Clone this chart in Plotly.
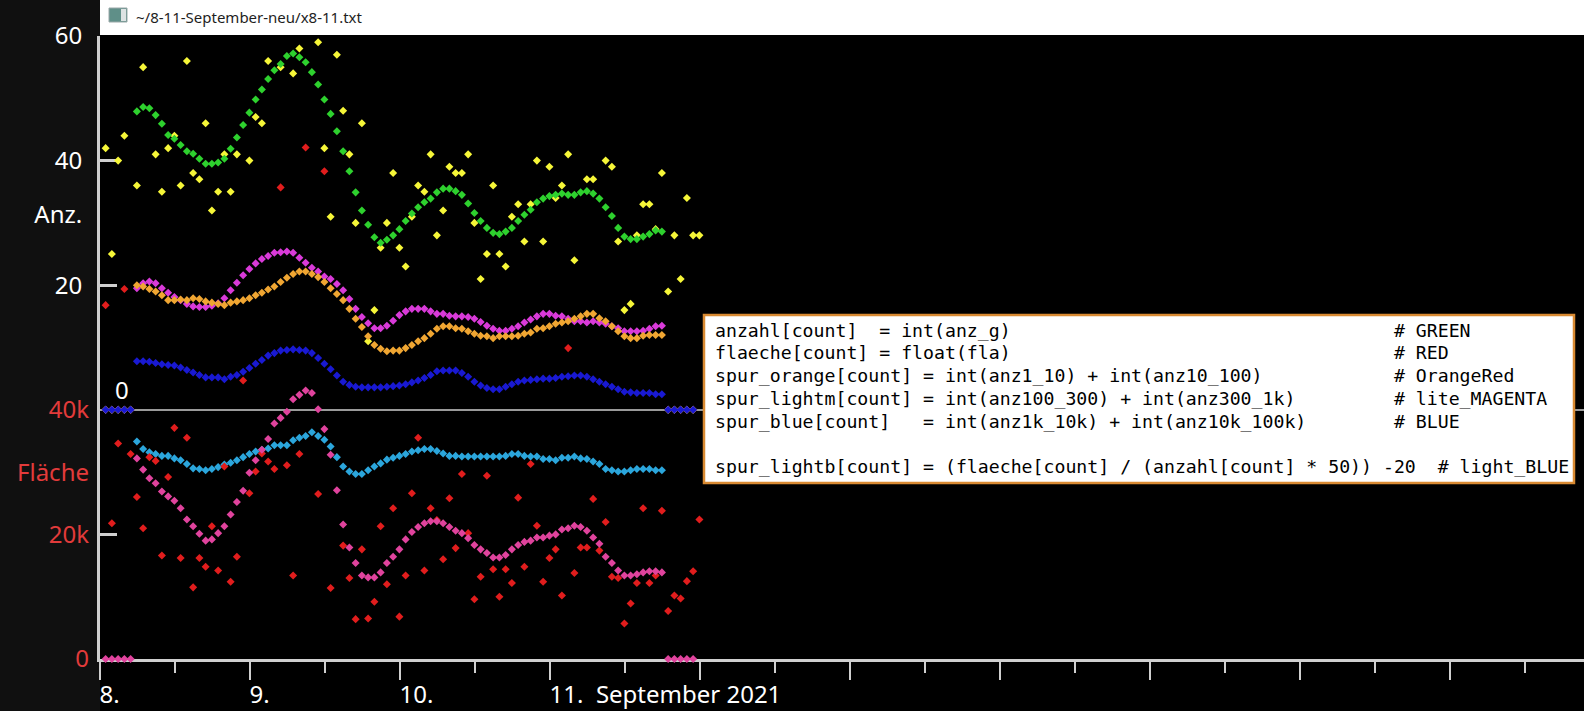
import pandas as pd
import plotly.graph_objects as go

# hourly samples from 8. to 11. September 2021
times = pd.date_range("2021-09-08 00:54", periods=96, freq="h")

# raw values per hour
anzahl_roh = [42, 25, 40, 44, None, 36, 55, None, 41, 35, 42, 44, 36, 56, 38, 37,
              46, 32, 35, 41, 35, 41, None, 40, 47, 46, 56, None, 55, None, 54, 58,
              None, None, 59, 42, 31, 57, 48, 41, 30, 46, 11, 16, 26, 30, 38, 26,
              23, 31, 36, 35, 41, 28, 32, 39, 38, 38, 41, 30, 21, 25, 36, 25,
              23, 31, 33, 27, 33, 40, 27, 39, 34, 36, 41, 24, None, 37, 37, None,
              40, 39, 27, 16, 17, 28, 33, 33, 29, 38, 19, 28, 21, 34, 28, 28]

flaeche_roh_k = [56.8, 21.8, 34.6, 59.4, 32.9, 26.0, 21.0, 32.4, 31.8, 16.6, 29.2, 37.1,
                 16.2, 35.5, 11.5, 16.2, 14.8, 21.3, 14.2, 30.9, 12.4, 16.4, 44.7, 26.6,
                 30.1, 33.0, 31.7, 30.5, 75.7, 31.1, 13.4, 32.9, 82.1, None, 26.5, 78.3,
                 11.4, None, 18.2, 13.0, 6.4, 17.6, 6.5, 9.2, 21.3, 12.0, 24.2, 6.8,
                 13.4, 26.6, 35.5, 14.2, 24.2, 22.3, 16.0, 25.8, 17.8, 29.7, 20.2, 9.6,
                 13.2, 29.4, 14.4, 10.0, 14.4, 12.2, 25.9, 14.8, 31.3, 21.4, 12.4, 16.2,
                 17.6, 10.2, 49.9, 13.8, 17.9, 17.9, 25.7, 17.4, 22.0, 13.2, 13.0, 5.7,
                 8.9, 12.2, 24.2, 12.2, 13.4, 23.8, 7.7, 10.2, 9.7, 12.5, 14.1, 22.4]

# smoothed tracks (zero where the window is not full yet)
anzahl = [0, 0, 0, 0, 0,
          47.9, 48.6, 48.4, 47.3, 45.9, 44.1, 43.5, 42.5, 41.5, 41.1,
          40.3, 39.5, 39.5, 39.7, 40.3, 41.9, 43.7, 45.7, 47.7, 49.8,
          51.4, 53.1, 54.5, 55.5, 56.8, 57.2, 56.6, 55.8, 54.2, 52.2,
          49.8, 47.5, 44.7, 41.5, 38.3, 34.9, 32.0, 29.7, 27.7, 26.8,
          27.3, 28.0, 29.0, 30.3, 31.5, 32.5, 33.3, 33.9, 34.9, 35.5,
          35.5, 35.1, 34.5, 33.1, 31.6, 30.3, 29.2, 28.4, 28.2, 28.6,
          29.2, 30.3, 31.3, 32.1, 33.3, 33.9, 34.3, 34.5, 34.7, 34.5,
          34.5, 34.9, 35.1, 34.7, 33.9, 32.5, 31.1, 29.2, 27.8, 27.4,
          27.4, 27.8, 28.2, 28.8, 28.6,
          0, 0, 0, 0, 0, None]

spur_orange = [0, 0, 0, 0, 0,
               20.0, 19.8, 19.4, 19.0, 18.4, 17.6, 17.6, 17.7, 17.6, 17.9,
               17.8, 17.4, 17.2, 17.0, 16.8, 17.2, 17.4, 17.6, 17.9, 18.4,
               18.8, 19.3, 19.8, 20.5, 21.2, 21.8, 22.2, 22.2, 21.8, 21.3,
               20.5, 19.5, 18.6, 17.6, 16.2, 14.6, 13.3, 11.8, 10.4, 9.8,
               9.4, 9.5, 9.5, 9.9, 10.4, 11.0, 11.5, 12.2, 13.0, 13.4,
               13.4, 13.1, 13.0, 12.6, 12.2, 11.9, 11.8, 11.5, 11.8, 11.8,
               11.8, 11.9, 12.2, 12.4, 13.0, 13.1, 13.4, 13.8, 14.0, 14.2,
               14.6, 15.0, 15.4, 15.4, 14.7, 14.2, 13.4, 12.6, 11.8, 11.5,
               11.5, 11.9, 12.0, 12.0, 12.0,
               0, 0, 0, 0, 0, None]

spur_lightm = [0, 0, 0, 0, 0,
               19.5, 20.3, 20.6, 20.3, 19.5, 18.8, 18.1, 17.6, 17.0, 16.6,
               16.5, 16.5, 16.7, 17.1, 17.9, 19.2, 20.4, 21.6, 22.6, 23.5,
               24.2, 24.7, 25.2, 25.3, 25.4, 25.2, 24.4, 23.6, 22.8, 22.2,
               21.4, 21.0, 20.2, 19.2, 17.8, 16.2, 14.9, 13.9, 13.1, 13.1,
               13.5, 14.3, 15.2, 15.8, 16.2, 16.2, 16.2, 15.8, 15.4, 15.4,
               15.1, 15.0, 15.0, 14.9, 14.6, 14.1, 13.5, 13.0, 12.7, 12.7,
               13.0, 13.4, 14.0, 14.5, 15.0, 15.4, 15.4, 15.1, 15.0, 14.6,
               14.2, 14.2, 14.0, 14.2, 14.0, 13.8, 13.4, 13.1, 12.6, 12.6,
               12.6, 12.7, 13.0, 13.4, 13.5,
               0, 0, 0, 0, 0, None]

spur_blue = [0, 0, 0, 0, 0,
             7.8, 7.8, 7.7, 7.5, 7.3, 7.2, 7.1, 6.8, 6.4, 6.0,
             5.6, 5.2, 5.2, 5.2, 4.9, 5.3, 5.6, 6.1, 6.7, 7.4,
             8.0, 8.7, 9.1, 9.5, 9.6, 9.7, 9.6, 9.5, 9.1, 8.3,
             7.4, 6.5, 5.5, 4.5, 4.0, 3.7, 3.6, 3.6, 3.6, 3.6,
             3.7, 3.8, 3.9, 4.1, 4.4, 4.7, 5.1, 5.6, 6.2, 6.3,
             6.3, 6.3, 5.9, 5.3, 4.5, 3.9, 3.5, 3.3, 3.3, 3.7,
             4.1, 4.5, 4.7, 4.8, 4.9, 5.0, 5.0, 5.1, 5.3, 5.4,
             5.5, 5.5, 5.3, 4.9, 4.5, 4.1, 3.7, 3.3, 2.9, 2.8,
             2.7, 2.7, 2.7, 2.5, 2.5,
             0, 0, 0, 0, 0, None]

spur_lightb = [None, None, None, None, None,
               -5.1, -6.3, -6.8, -7.1, -7.4, -7.4, -7.8, -8.1, -8.7, -9.4,
               -9.5, -9.7, -9.5, -9.2, -8.8, -8.5, -8.1, -7.6, -7.1, -6.7,
               -6.4, -6.2, -5.7, -5.7, -5.7, -4.9, -4.5, -4.2, -3.6, -4.2,
               -4.8, -5.9, -7.6, -9.1, -9.9, -10.3, -10.3, -9.7, -9.1, -8.6,
               -8.0, -7.7, -7.4, -7.1, -6.7, -6.5, -6.3, -6.3, -6.6, -7.0,
               -7.4, -7.4, -7.5, -7.5, -7.5, -7.5, -7.5, -7.5, -7.5, -7.4,
               -7.1, -7.1, -7.4, -7.5, -7.5, -7.9, -7.9, -8.1, -7.7, -7.7,
               -7.5, -7.8, -7.9, -8.3, -8.7, -9.5, -9.7, -9.9, -9.9, -9.7,
               -9.5, -9.5, -9.5, -9.7, -9.7,
               None, None, None, None, None, None]

flaeche_k = [0, 0, 0, 0, 0,
             32.2, 30.4, 29.0, 28.2, 26.9, 26.1, 25.4, 24.2, 22.4, 21.3,
             20.1, 19.0, 19.2, 20.2, 21.3, 23.2, 25.2, 27.0, 29.9, 31.9,
             33.6, 35.3, 37.8, 38.7, 39.7, 41.7, 42.4, 43.1, 42.7, 40.1,
             36.9, 32.8, 27.1, 21.6, 17.9, 15.4, 13.4, 13.1, 13.1, 13.9,
             15.4, 16.4, 17.6, 19.2, 20.4, 21.2, 21.8, 22.1, 22.1, 21.8,
             21.2, 20.6, 20.2, 19.4, 18.3, 17.6, 17.0, 16.3, 16.3, 16.7,
             17.6, 18.3, 18.8, 19.0, 19.5, 19.5, 19.8, 20.0, 20.8, 21.0,
             21.4, 21.2, 20.6, 19.5, 18.5, 16.4, 15.4, 14.2, 13.4, 13.4,
             13.6, 13.9, 14.1, 14.1, 13.9,
             0, 0, 0, 0, 0, None]

# axis labels
day_ticks = pd.date_range("2021-09-08", "2021-09-17", freq="D")
day_labels = ["8.", "9.", "10.", "11.\u00a0\u00a0September 2021", "", "", "", "", "", ""]
half_ticks = pd.date_range("2021-09-08 12:00", "2021-09-17 12:00", freq="D")
anz_ticks = [20, 31.3, 40, 60]
anz_labels = ["20", "Anz.", "40", "60"]
fla_ticks = [0, 20, 30, 40]
fla_labels = ["0", "20k", "Fläche", "40k"]

legend_lines = [
    ("anzahl[count]  = int(anz_g)", "# GREEN"),
    ("flaeche[count] = float(fla)", "# RED"),
    ("spur_orange[count] = int(anz1_10) + int(anz10_100)", "# OrangeRed"),
    ("spur_lightm[count] = int(anz100_300) + int(anz300_1k)", "# lite_MAGENTA"),
    ("spur_blue[count]   = int(anz1k_10k) + int(anz10k_100k)", "# BLUE"),
    ("", ""),
    ("spur_lightb[count] = (flaeche[count] / (anzahl[count] * 50)) -20", "# light_BLUE"),
]

W, H = 1584, 711
L, R, T, B = 100, 0, 36, 52
PW, PH = W - L - R, H - T - B


def px(x):
    return (x - L) / PW


def py(y):
    return (H - B - y) / PH


def dots(y, color, axis="y", clip=True):
    return go.Scatter(x=times, y=y, mode="markers", yaxis=axis, cliponaxis=clip,
                      marker=dict(symbol="diamond", size=6.2, color=color, line=dict(width=0)),
                      hoverinfo="skip")


fig = go.Figure()
fig.add_trace(dots(anzahl_roh, "#f6f638"))
fig.add_trace(dots(anzahl, "#2ed12e"))
fig.add_trace(dots(spur_lightm, "#d93ad9"))
fig.add_trace(dots(spur_orange, "#f0a632"))
fig.add_trace(dots(spur_blue, "#1919d2"))
fig.add_trace(dots(spur_lightb, "#2ba6dc"))
fig.add_trace(dots(flaeche_roh_k, "#e11d1d", "y2"))
fig.add_trace(dots(flaeche_k, "#e0439d", "y2", clip=False))

axis_grey = "#cfcfcf"
fig.update_layout(
    width=W, height=H,
    margin=dict(l=L, r=R, t=T, b=B, pad=0),
    paper_bgcolor="#000000", plot_bgcolor="#000000",
    showlegend=False,
    font=dict(family="Noto Sans", color="white"),
    xaxis=dict(
        range=["2021-09-08 00:00", "2021-09-17 21:26"],
        showgrid=False, zeroline=False,
        showline=True, linecolor=axis_grey, linewidth=3,
        tickmode="array", tickvals=day_ticks, ticktext=day_labels,
        ticks="outside", ticklen=18, tickwidth=2, tickcolor=axis_grey,
        ticklabelposition="outside right", ticklabelstandoff=12, ticklabelshift=-3,
        tickfont=dict(family="Noto Sans", size=24, color="white"),
        minor=dict(tickmode="array", tickvals=half_ticks, ticks="outside",
                   ticklen=11, tickwidth=1.5, tickcolor=axis_grey),
        layer="below traces",
    ),
    yaxis=dict(
        range=[-40, 60],
        showgrid=False,
        zeroline=True, zerolinecolor="#9a9a9a", zerolinewidth=2,
        showline=True, linecolor=axis_grey, linewidth=3,
        tickmode="array", tickvals=anz_ticks, ticktext=anz_labels, ticks="",
        tickfont=dict(family="Noto Sans", size=24, color="white"),
        ticklabelstandoff=10,
        minor=dict(tickmode="array", tickvals=[-20, 20, 40], ticks="inside",
                   ticklen=17, tickwidth=3, tickcolor=axis_grey),
        layer="below traces",
    ),
    yaxis2=dict(
        range=[0, 100], overlaying="y", side="left", anchor="x",
        showgrid=False, zeroline=False, showline=False,
        tickmode="array", tickvals=fla_ticks, ticktext=fla_labels, ticks="",
        tickfont=dict(family="Noto Sans", size=24, color="#e23b3b"),
        ticklabelstandoff=10,
    ),
)

shapes = [
    # dark strip left of the axis
    dict(type="rect", xref="paper", yref="paper", x0=px(0), x1=px(L), y0=py(H), y1=py(0),
         fillcolor="#101010", line=dict(width=0), layer="below"),
    # window title bar
    dict(type="rect", xref="paper", yref="paper", x0=px(L), x1=px(W), y0=py(35), y1=py(0),
         fillcolor="#ffffff", line=dict(width=0), layer="above"),
    dict(type="rect", xref="paper", yref="paper", x0=px(109), x1=px(127), y0=py(22), y1=py(8),
         fillcolor="#5f8f88", line=dict(color="#9aa8a8", width=1), layer="above"),
    dict(type="rect", xref="paper", yref="paper", x0=px(121), x1=px(126), y0=py(21), y1=py(9),
         fillcolor="#dde3e3", line=dict(width=0), layer="above"),
    # code box
    dict(type="rect", xref="paper", yref="paper", x0=px(704), x1=px(1574), y0=py(483), y1=py(315),
         fillcolor="#ffffff", line=dict(color="#d98a32", width=2.5), layer="above"),
]

annotations = [
    dict(text="~/8-11-September-neu/x8-11.txt", xref="paper", yref="paper",
         x=px(134), y=py(17), xanchor="left", yanchor="middle", showarrow=False,
         font=dict(family="Noto Sans", size=15, color="#1e1e1e")),
    dict(text="0", xref="paper", yref="paper", x=px(121.5), y=py(389), xanchor="center",
         yanchor="middle", showarrow=False, font=dict(family="Noto Sans", size=24, color="white")),
]
for i, (code, comment) in enumerate(legend_lines):
    if not code:
        continue
    line = code.ljust(62 if len(code) < 62 else len(code) + 2) + comment
    annotations.append(dict(
        text=line.replace(" ", "\u00a0"), xref="paper", yref="paper",
        x=px(713), y=py(330 + i * 22.8), xanchor="left", yanchor="middle", showarrow=False,
        font=dict(family="DejaVu Sans Mono", size=18.2, color="#000000")))

fig.update_layout(shapes=shapes, annotations=annotations)

fig.write_html("out.html", config={"displayModeBar": False},
               post_script="document.body.style.margin='0';document.body.style.overflow='hidden';")
